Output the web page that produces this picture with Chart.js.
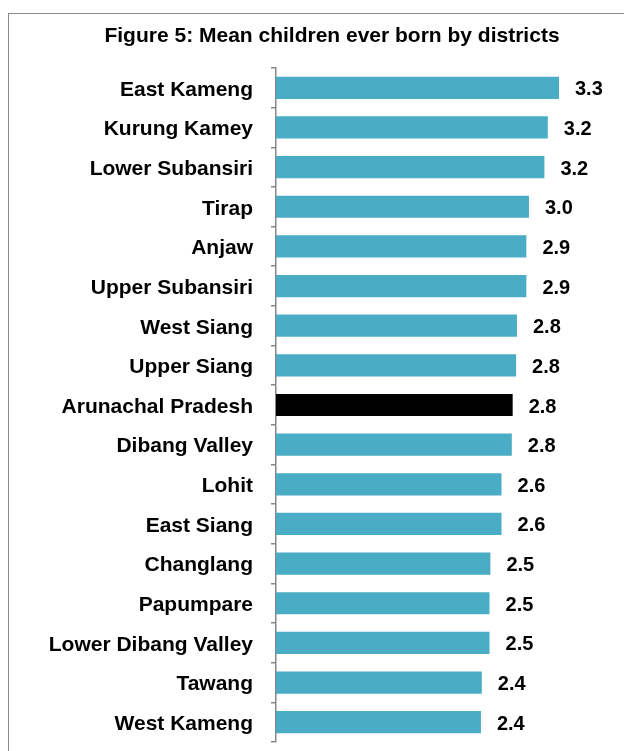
<!DOCTYPE html>
<html><head><meta charset="utf-8">
<script src="https://cdn.jsdelivr.net/npm/chart.js@4"></script>
<style>
html,body{margin:0;padding:0;background:#fff;}
#wrap{position:relative;width:624px;height:751px;overflow:hidden;}
#frame{position:absolute;left:8px;top:13px;width:640px;height:760px;border:1.5px solid #8a8a8a;box-sizing:border-box;}
canvas{position:absolute;left:0;top:0;}
</style></head>
<body>
<div id="wrap"><div id="frame"></div><canvas id="c" width="624" height="751"></canvas></div>
<script>
const titleText = "Figure 5: Mean children ever born by districts";
const districts = ["East Kameng","Kurung Kamey","Lower Subansiri","Tirap","Anjaw","Upper Subansiri","West Siang","Upper Siang","Arunachal Pradesh","Dibang Valley","Lohit","East Siang","Changlang","Papumpare","Lower Dibang Valley","Tawang","West Kameng"];
const meanChildren = [3.30,3.17,3.13,2.95,2.92,2.92,2.81,2.80,2.76,2.75,2.63,2.63,2.50,2.49,2.49,2.40,2.39];
const valueLabels = ["3.3","3.2","3.2","3.0","2.9","2.9","2.8","2.8","2.8","2.8","2.6","2.6","2.5","2.5","2.5","2.4","2.4"];
const highlight = "Arunachal Pradesh";

const colors = districts.map(d => d === highlight ? "#000000" : "#4BACC6");
const FONT = "'Liberation Sans', Arial, sans-serif";

const valuePlugin = {
  id: 'valueLabels',
  afterDatasetsDraw(chart) {
    const ctx = chart.ctx;
    const meta = chart.getDatasetMeta(0);
    ctx.save();
    ctx.font = "bold 20px " + FONT;
    ctx.fillStyle = "#000";
    ctx.textAlign = "left";
    ctx.textBaseline = "middle";
    meta.data.forEach((bar, i) => {
      ctx.fillText(valueLabels[i], bar.x + 16, bar.y + 2);
    });
    ctx.restore();
  }
};

const titlePlugin = {
  id: 'figTitle',
  afterDraw(chart) {
    const ctx = chart.ctx;
    ctx.save();
    ctx.font = "bold 21px " + FONT;
    ctx.fillStyle = "#000";
    ctx.textAlign = "center";
    ctx.textBaseline = "middle";
    ctx.fillText(titleText, 332, 36);
    ctx.restore();
  }
};

new Chart(document.getElementById('c'), {
  type: 'bar',
  data: {
    labels: districts,
    datasets: [{
      data: meanChildren,
      backgroundColor: colors,
      borderWidth: 0,
      barPercentage: 1,
      categoryPercentage: 0.56
    }]
  },
  options: {
    indexAxis: 'y',
    responsive: false,
    animation: false,
    devicePixelRatio: 1,
    layout: { padding: { left: 0, right: 5, top: 68, bottom: 9 } },
    plugins: {
      legend: { display: false },
      tooltip: { enabled: false },
      title: { display: false }
    },
    scales: {
      x: {
        display: false,
        min: 0,
        max: 4
      },
      y: {
        offset: true,
        afterFit(scale) { scale.width = 276; scale.paddingTop = 0; scale.paddingBottom = 0; },
        border: { display: true, color: '#868686', width: 1.5 },
        grid: {
          offset: true,
          drawOnChartArea: false,
          drawTicks: true,
          tickLength: 5,
          color: '#868686',
          lineWidth: 1.5
        },
        ticks: {
          color: '#000',
          padding: 18,
          labelOffset: 2,
          font: { family: FONT, size: 21, weight: 'bold' }
        }
      }
    }
  },
  plugins: [valuePlugin, titlePlugin]
});
</script>
</body></html>
